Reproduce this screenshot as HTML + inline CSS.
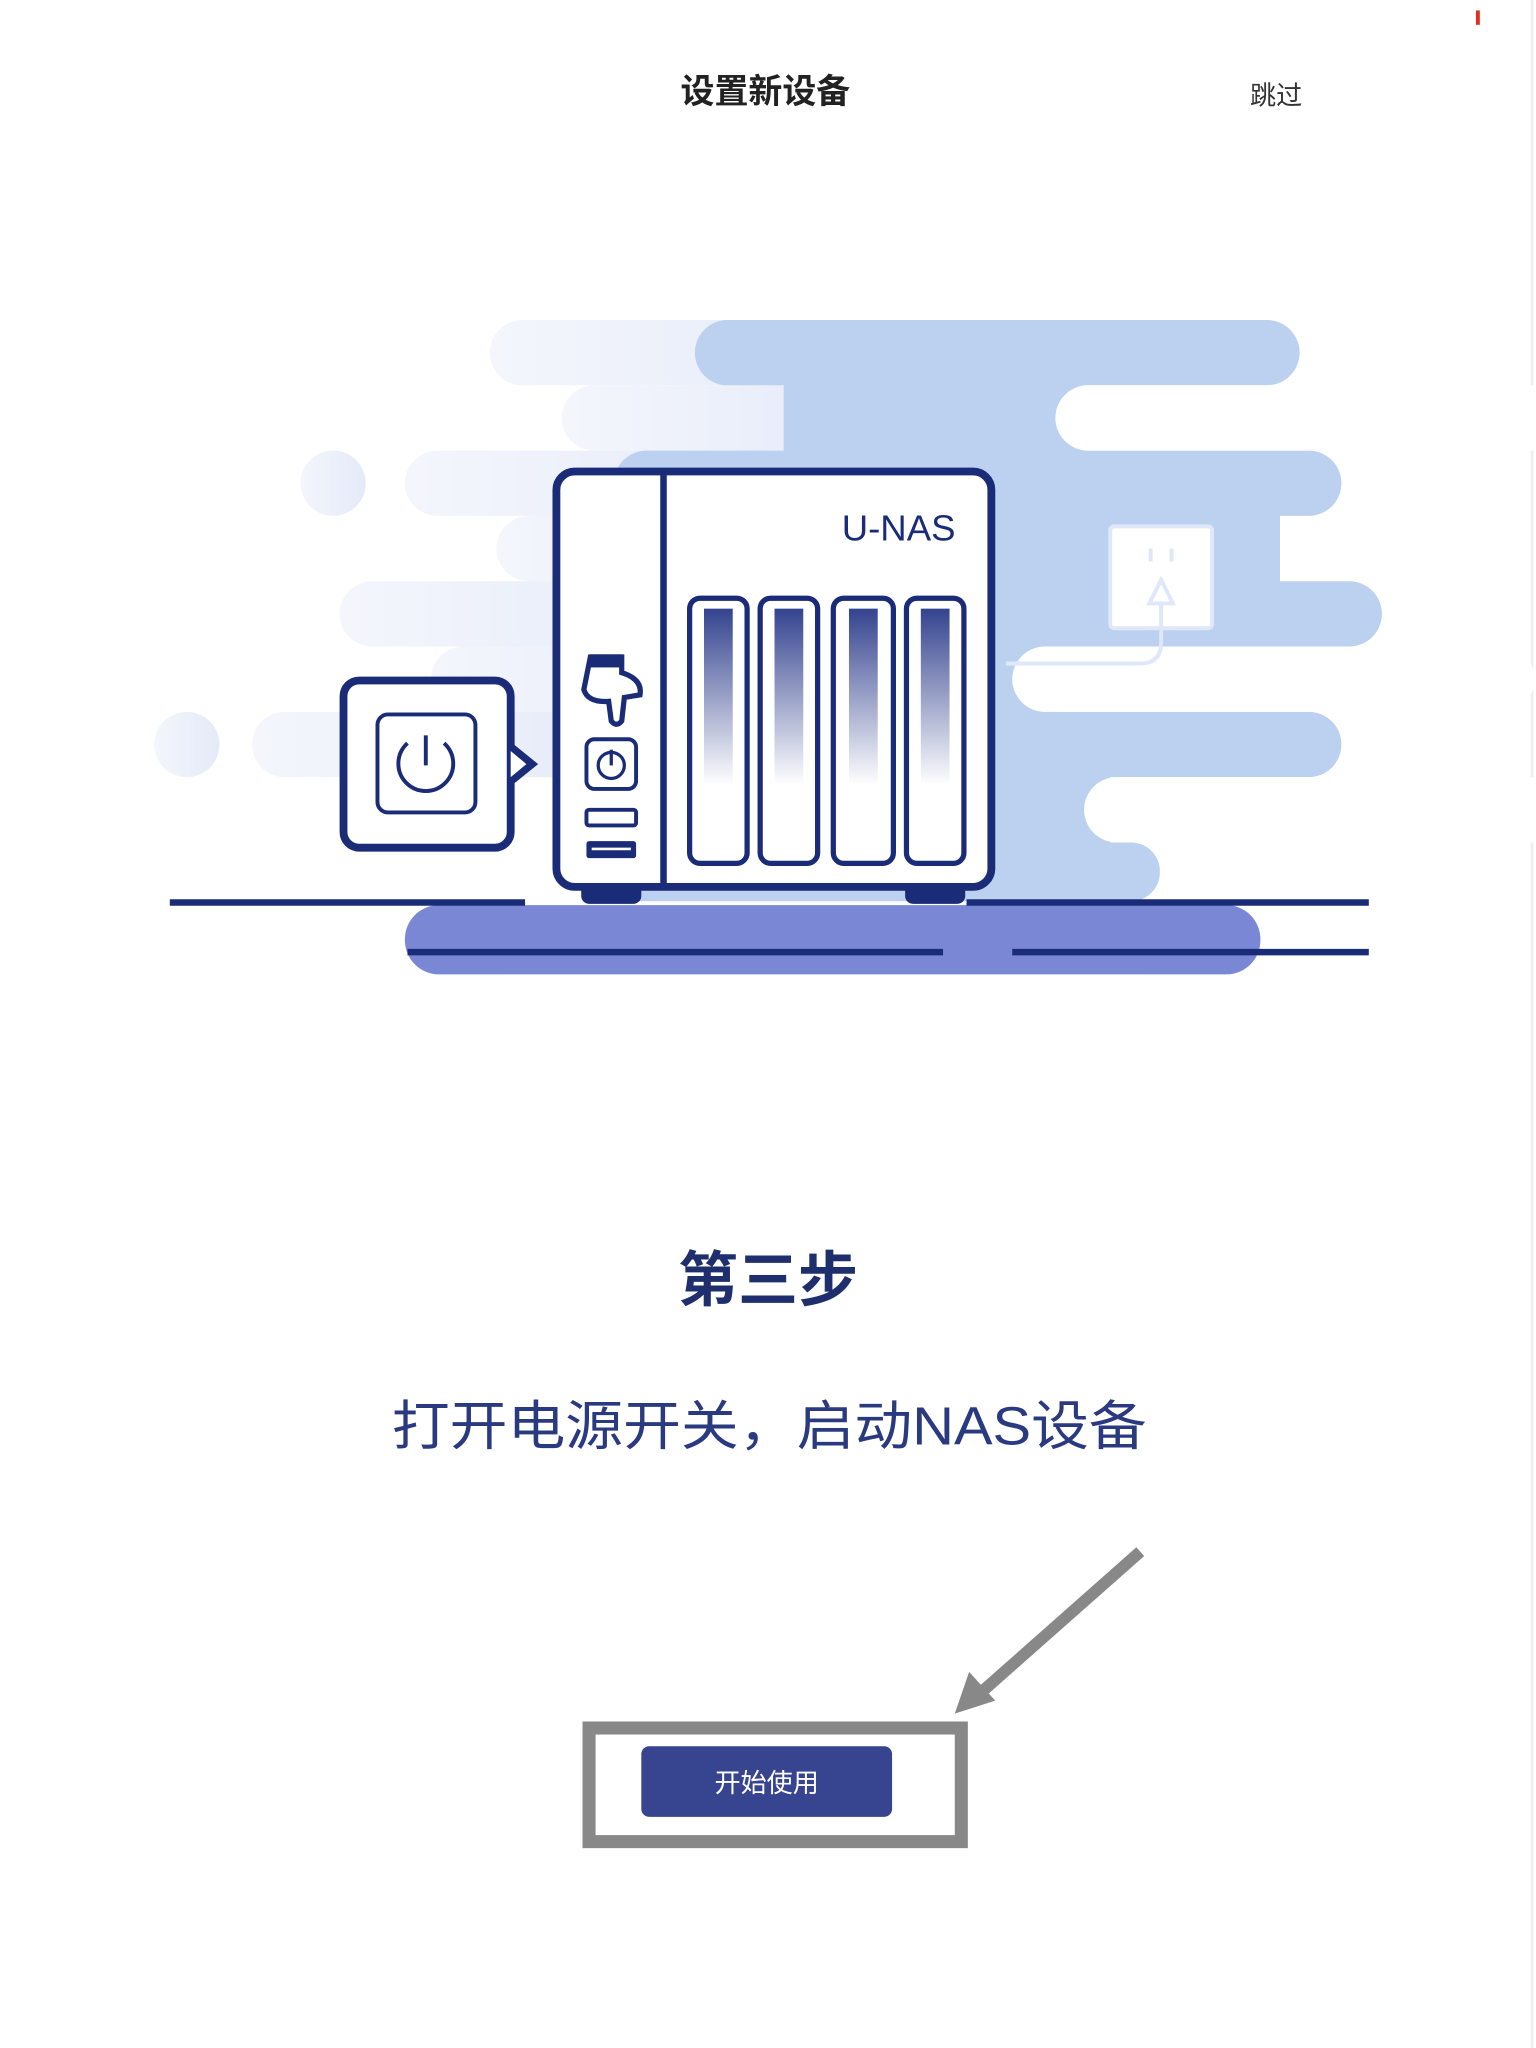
<!DOCTYPE html>
<html><head><meta charset="utf-8"><style>
html,body{margin:0;padding:0;background:#fff;width:1536px;height:2048px;overflow:hidden}
svg{display:block}
text{font-family:"Liberation Sans","Noto Sans CJK SC",sans-serif}
</style></head><body>
<svg width="1536" height="2048" viewBox="0 0 1176 1568" xmlns="http://www.w3.org/2000/svg">
<defs>
<linearGradient id="pale" x1="0" x2="1" y1="0" y2="0"><stop offset="0" stop-color="#f4f6fc"/><stop offset="1" stop-color="#e4eaf8"/></linearGradient>
<linearGradient id="bay" x1="0" x2="0" y1="0" y2="1"><stop offset="0" stop-color="#34438f"/><stop offset="1" stop-color="#ffffff"/></linearGradient>
</defs>
<rect x="1130" y="8" width="3" height="11" fill="#e03020"/>
<line x1="1173" y1="0" x2="1173" y2="1568" stroke="#eeeeee" stroke-width="2"/>
<text x="586" y="79" font-size="26" text-anchor="middle" fill="#222" font-weight="bold">设置新设备</text>
<text x="977" y="80" font-size="20" text-anchor="middle" fill="#333">跳过</text>

<!-- clouds pale -->
<g fill="url(#pale)">
<rect x="375" y="245" width="300" height="50" rx="25"/>
<rect x="430" y="295" width="250" height="50" rx="25"/>
<rect x="310" y="345" width="300" height="50" rx="25"/>
<rect x="380" y="395" width="250" height="50" rx="25"/>
<rect x="260" y="445" width="300" height="50" rx="25"/>
<rect x="330" y="495" width="250" height="50" rx="25"/>
<rect x="193" y="545" width="300" height="50" rx="25"/>
<circle cx="255" cy="370" r="25"/>
<circle cx="143" cy="570" r="25"/>
</g>
<g fill="#bcd0f0">
<rect x="532" y="245" width="463" height="50" rx="25"/>
<rect x="600" y="280" width="230" height="80"/>
<rect x="470" y="345" width="557" height="50" rx="25"/>
<rect x="500" y="380" width="480" height="80"/>
<rect x="480" y="445" width="578" height="50" rx="25"/>
<rect x="480" y="480" width="330" height="80"/>
<rect x="480" y="545" width="547" height="50" rx="25"/>
<rect x="480" y="580" width="370" height="80"/>
<rect x="440" y="645" width="448" height="45" rx="22"/>
</g>
<g fill="#fff">
<rect x="808" y="295" width="400" height="50" rx="25"/>
<rect x="775" y="495" width="400" height="50" rx="25"/>
<rect x="830" y="595" width="400" height="50" rx="25"/>
</g>
<!-- socket -->
<rect x="850" y="403" width="78" height="78" rx="3" fill="#fff" stroke="#dfe7f8" stroke-width="3"/>
<g stroke="#dfe7f8" stroke-width="3" fill="none">
<line x1="881" y1="420" x2="881" y2="430"/><line x1="897" y1="420" x2="897" y2="430"/>
<path d="M880 462 L889 444 L898 462 Z"/>
<path d="M889 462 V492 Q889 508 873 508 H770"/>
</g>
<!-- ground -->
<rect x="310" y="693" width="655" height="53" rx="26" fill="#7a87d4"/>
<g stroke="#1a2b78" stroke-width="5">
<line x1="130" y1="691" x2="402" y2="691"/><line x1="740" y1="691" x2="1048" y2="691"/>
<line x1="312" y1="729" x2="722" y2="729"/><line x1="775" y1="729" x2="1048" y2="729"/>
</g>
<!-- NAS -->
<rect x="445" y="672" width="46" height="20" rx="6" fill="#1a2b78"/>
<rect x="693" y="672" width="46" height="20" rx="6" fill="#1a2b78"/>
<rect x="426" y="361" width="333" height="318" rx="14" fill="#fff" stroke="#1a2b78" stroke-width="6"/>
<line x1="508" y1="363" x2="508" y2="677" stroke="#1a2b78" stroke-width="5"/>
<text x="688" y="414" font-size="28" text-anchor="middle" fill="#1a2b78">U-NAS</text>
<g stroke="#1a2b78" stroke-width="4" fill="#fff">
<rect x="528" y="458" width="44" height="203" rx="8"/>
<rect x="582" y="458" width="44" height="203" rx="8"/>
<rect x="638" y="458" width="46" height="203" rx="8"/>
<rect x="694" y="458" width="44" height="203" rx="8"/>
</g>
<g fill="url(#bay)">
<rect x="539" y="466" width="22" height="135"/>
<rect x="593" y="466" width="22" height="135"/>
<rect x="650" y="466" width="22" height="135"/>
<rect x="705" y="466" width="22" height="135"/>
</g>
<!-- hand -->
<path d="M452 503 H476 V515 Q492 520 490 532 L478 534 L476 552 Q472 557 468 552 L466 537 Q450 538 447 528 Z" fill="#fff" stroke="#1a2b78" stroke-width="4"/>
<rect x="452" y="501" width="24" height="10" fill="#1a2b78"/>
<rect x="449" y="566" width="38" height="38" rx="6" fill="#fff" stroke="#1a2b78" stroke-width="3"/>
<circle cx="468" cy="586" r="10" fill="none" stroke="#1a2b78" stroke-width="2.5"/>
<line x1="468" y1="574" x2="468" y2="586" stroke="#1a2b78" stroke-width="2.5"/>
<rect x="449" y="620" width="38" height="12" rx="2" fill="#fff" stroke="#1a2b78" stroke-width="3"/>
<rect x="449" y="644" width="38" height="13" rx="2" fill="#1a2b78"/>
<line x1="453" y1="650" x2="483" y2="650" stroke="#fff" stroke-width="2"/>
<!-- callout -->
<rect x="263" y="521" width="128" height="128" rx="12" fill="#fff" stroke="#1a2b78" stroke-width="6"/>
<path d="M391 568 L412 585 L391 602 Z" fill="#1a2b78"/>
<path d="M391 575 L403 585 L391 595 Z" fill="#fff"/>
<rect x="289" y="547" width="75" height="75" rx="8" fill="#fff" stroke="#1a2b78" stroke-width="3"/>
<path d="M312 569 A21 21 0 1 0 340 569" fill="none" stroke="#1a2b78" stroke-width="3"/>
<line x1="326" y1="563" x2="326" y2="586" stroke="#1a2b78" stroke-width="3"/>

<text x="588" y="996" font-size="46" font-weight="bold" text-anchor="middle" fill="#1f2f6e">第三步</text>
<text x="300" y="1106" font-size="41" fill="#2a3a80" textLength="578" lengthAdjust="spacingAndGlyphs">打开电源开关，启动NAS设备</text>

<line x1="873" y1="1188" x2="752" y2="1295" stroke="#888" stroke-width="9"/>
<path d="M731 1312 L742 1280 L762 1302 Z" fill="#888"/>
<rect x="451" y="1323" width="285" height="87" fill="none" stroke="#888" stroke-width="10"/>
<rect x="491" y="1337" width="192" height="54" rx="6" fill="#374590"/>
<text x="587" y="1372" font-size="20" text-anchor="middle" fill="#fff">开始使用</text>
</svg>
</body></html>
